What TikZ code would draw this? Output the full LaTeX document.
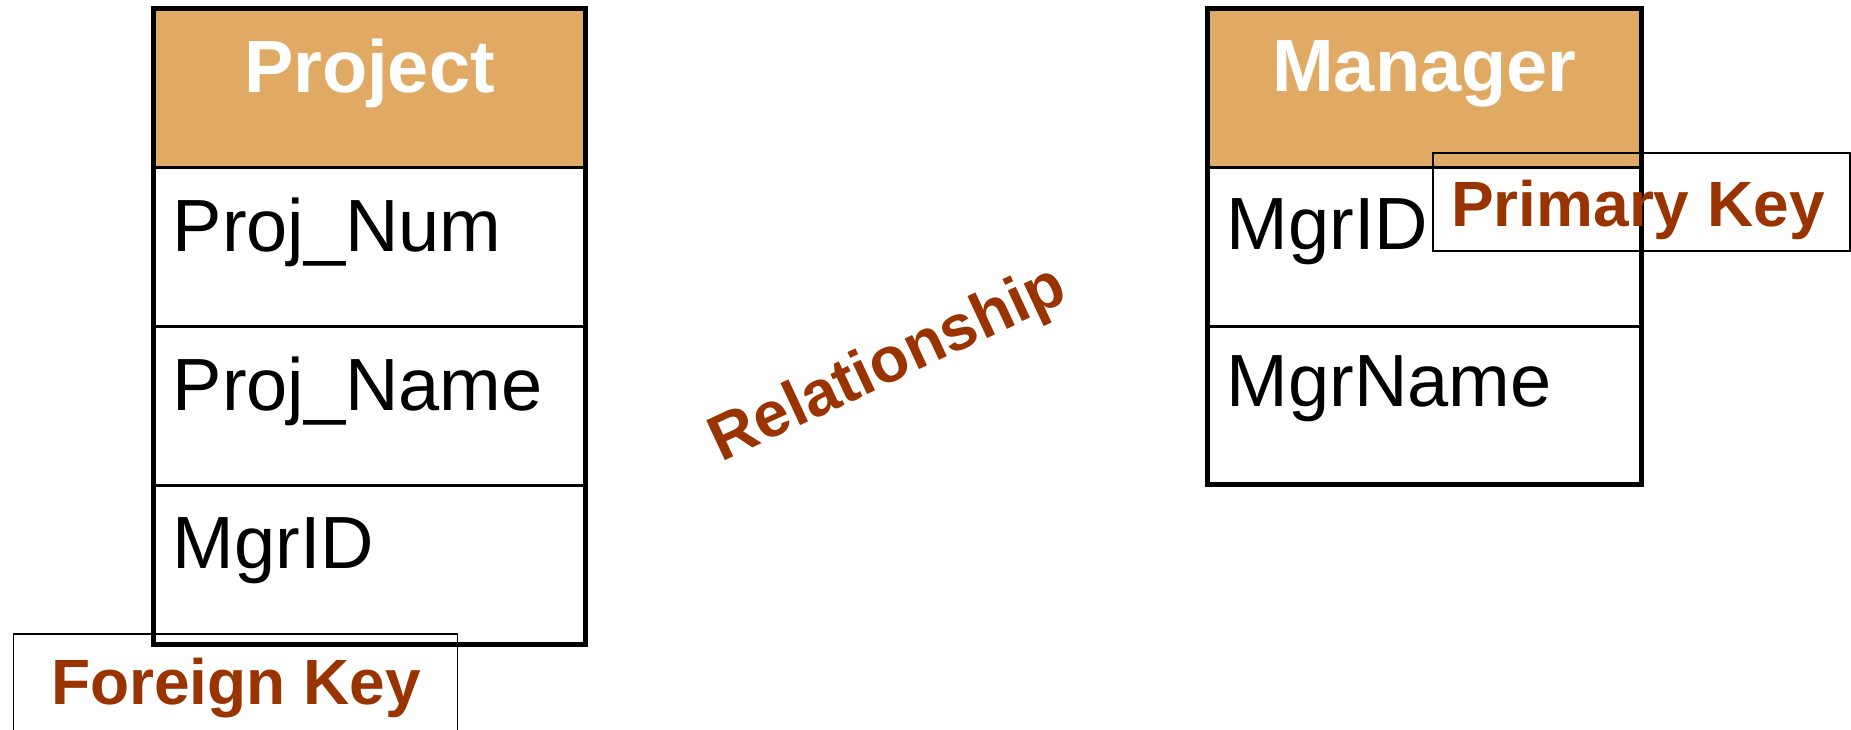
\documentclass[tikz,border=0pt]{standalone}
\usepackage{fontspec}
\setmainfont{Liberation Sans}
\definecolor{hdr}{RGB}{224,170,100}
\definecolor{keybrown}{RGB}{153,51,0}
\begin{document}
\begin{tikzpicture}[x=1pt,y=-1pt,
  field/.style={anchor=base west, inner sep=0pt, font=\fontsize{74}{80}\selectfont},
  title/.style={anchor=base, inner sep=0pt, text=white, font=\bfseries\fontsize{74}{80}\selectfont},
  keylabel/.style={inner sep=0pt, text=keybrown, font=\bfseries\fontsize{64}{70}\selectfont},
  keybox/.style={draw, line width=1.8pt, inner sep=0pt, anchor=north west},
  outerbox/.style={draw, line width=5pt},
  rowline/.style={line width=2.5pt}]
\useasboundingbox (0,0) rectangle (1851,730);
\clip (0,0) rectangle (1851,730);

% ---------- Project table ----------
\fill[hdr] (153.5,8.3) rectangle (585.5,167.5);
\draw[rowline] (153.5,167.5) -- (585.5,167.5);
\draw[rowline] (153.5,326.5) -- (585.5,326.5);
\draw[rowline] (153.5,485.5) -- (585.5,485.5);
\draw[outerbox] (153.5,8.3) rectangle (585.5,644.6);
\node[title] (ptitle) at (369.5,92.8) {Project};
\node[field] (pnum) at (172.5,251.2) {Proj\_Num};
\node[field] (pname) at (172.5,410) {Proj\_Name};
\node[field] (pmgr) at (172.5,568) {MgrID};

% ---------- Manager table ----------
\fill[hdr] (1207.7,8.3) rectangle (1641,167.5);
\draw[rowline] (1207.7,167.5) -- (1641,167.5);
\draw[rowline] (1207.7,326.5) -- (1641,326.5);
\draw[outerbox] (1207.7,8.3) rectangle (1641,484);
\node[title] (mtitle) at (1424.4,91.5) {Manager};
\node[field] (mid) at (1226.5,249.5) {MgrID};
\node[field] (mname) at (1226.5,406.4) {MgrName};

% ---------- Relationship ----------
\node[keylabel, rotate=25] (rel) at (889,366) {Relationship};

% ---------- Key callouts ----------
\node[keybox, minimum width=416.7, minimum height=98] (pkbox) at (1432,152.3) {};
\node[keylabel, anchor=base west] (pk) at (1451,226.3) {Primary Key};
\node[keybox, minimum width=443.9, minimum height=120] (fkbox) at (12.6,633) {};
\node[keylabel, anchor=base west] (fk) at (51,704.7) {Foreign Key};
\end{tikzpicture}
\end{document}
